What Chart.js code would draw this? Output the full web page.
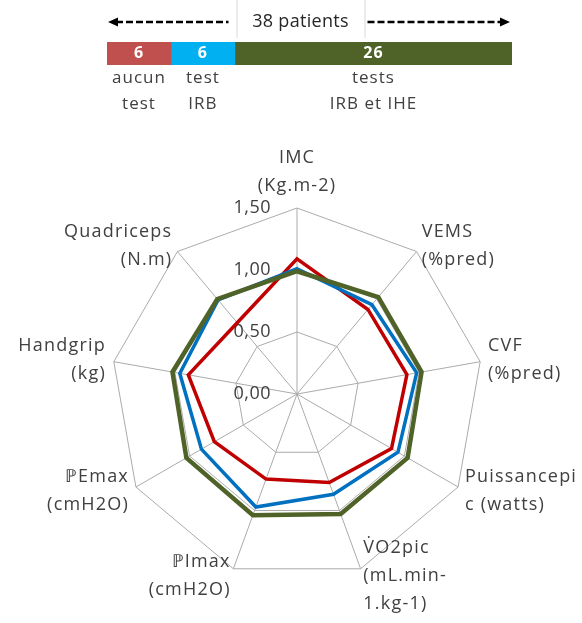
<!DOCTYPE html>
<html>
<head>
<meta charset="utf-8">
<script src="https://cdn.jsdelivr.net/npm/chart.js@4.4.0/dist/chart.umd.min.js"></script>
<style>
  body { margin: 0; background: #fff; }
  #wrap { position: relative; width: 582px; height: 623px; }
  canvas { position: absolute; left: 0; top: 0; }
</style>
</head>
<body>
<div id="wrap">
  <canvas id="radar" width="582" height="623"></canvas>
  <canvas id="bar" width="582" height="125"></canvas>
</div>
<script>
// top bar: patient groups
const groups = [['aucun', 'test'], ['test', 'IRB'], ['tests', 'IRB et IHE']];
const groupCounts = [6, 6, 26];
const totalLabel = '38 patients';

// radar axes (clockwise from top)
const axes = [
  ['IMC', '(Kg.m-2)'],
  ['VEMS', '(%pred)'],
  ['CVF', '(%pred)'],
  ['Puissancepi', 'c (watts)'],
  ['V\u0307O2pic', '(mL.min-', '1.kg-1)'],
  ['\u2119Imax', '(cmH2O)'],
  ['\u2119Emax', '(cmH2O)'],
  ['Handgrip', '(kg)'],
  ['Quadriceps', '(N.m)']
];
const aucunTest = [1.09, 0.89, 0.90, 0.88, 0.76, 0.73, 0.77, 0.89, 0.75];
const testIRB   = [1.01, 0.94, 0.98, 0.94, 0.86, 0.97, 0.89, 0.96, 0.99];
const testsIHE  = [0.99, 1.02, 1.02, 1.03, 1.03, 1.04, 1.03, 1.02, 1.00];
const scaleTicks = [0, 0.5, 1, 1.5];

const FONT = '"Open Sans", sans-serif';
const TEXT = '#404040';
const fmt = v => v.toFixed(2).replace('.', ',');

// ---------- bar ----------
const barText = {
  id: 'barText',
  afterDatasetsDraw(chart) {
    const ctx = chart.ctx;
    const x = chart.scales.x;
    ctx.save();
    ctx.letterSpacing = '1px';
    ctx.textAlign = 'center';
    ctx.textBaseline = 'middle';
    chart.data.datasets.forEach((ds, i) => {
      const el = chart.getDatasetMeta(i).data[0];
      const cx = (el.base + el.x) / 2;
      ctx.font = 'bold 16px ' + FONT;
      ctx.fillStyle = '#fff';
      ctx.fillText(ds.data[0], cx, el.y);
      ctx.font = '17px ' + FONT;
      ctx.fillStyle = TEXT;
      groups[i].forEach((ln, k) => ctx.fillText(ln, cx, 78 + k * 26));
    });

    // "38 patients" with dashed arrows
    const x0 = x.getPixelForValue(0), x1 = x.getPixelForValue(x.max);
    const mid = (x0 + x1) / 2 - 9, y = 22;
    ctx.strokeStyle = '#d9d9d9';
    ctx.lineWidth = 1;
    ctx.beginPath();
    ctx.moveTo(mid - 63.5, 0); ctx.lineTo(mid - 63.5, 38);
    ctx.moveTo(mid + 64.5, 0); ctx.lineTo(mid + 64.5, 38);
    ctx.stroke();
    ctx.font = '18px ' + FONT;
    ctx.fillStyle = '#262626';
    ctx.letterSpacing = '0.3px';
    ctx.fillText(totalLabel, mid, y);

    ctx.strokeStyle = '#000';
    ctx.fillStyle = '#000';
    ctx.lineWidth = 2.5;
    ctx.setLineDash([7, 3]);
    ctx.beginPath();
    ctx.moveTo(x0 + 9, y); ctx.lineTo(mid - 72, y);
    ctx.moveTo(mid + 67, y); ctx.lineTo(x1 - 10, y);
    ctx.stroke();
    ctx.setLineDash([]);
    ctx.beginPath();
    ctx.moveTo(x0 + 1, y); ctx.lineTo(x0 + 11, y - 4.5); ctx.lineTo(x0 + 11, y + 4.5); ctx.closePath();
    ctx.moveTo(x1 - 2, y); ctx.lineTo(x1 - 12, y - 4.5); ctx.lineTo(x1 - 12, y + 4.5); ctx.closePath();
    ctx.fill();
    ctx.restore();
  }
};

new Chart(document.getElementById('bar'), {
  type: 'bar',
  data: {
    labels: [''],
    datasets: [
      { data: [groupCounts[0]], backgroundColor: '#C0504D', borderWidth: 0 },
      { data: [groupCounts[1]], backgroundColor: '#00B0F0', borderWidth: 0 },
      { data: [groupCounts[2]], backgroundColor: '#4F6228', borderWidth: 0 }
    ]
  },
  options: {
    indexAxis: 'y',
    responsive: false,
    animation: false,
    events: [],
    layout: { padding: { left: 107, right: 70, top: 42, bottom: 60 } },
    datasets: { bar: { barPercentage: 1, categoryPercentage: 1 } },
    scales: {
      x: { stacked: true, min: 0, max: 38, display: false },
      y: { stacked: true, display: false }
    },
    plugins: { legend: { display: false }, tooltip: { enabled: false } }
  },
  plugins: [barText]
});

// ---------- radar ----------
const radarText = {
  id: 'radarText',
  beforeDatasetsDraw(chart) {
    const r = chart.scales.r, ctx = chart.ctx;
    ctx.save();
    ctx.font = '18px ' + FONT;
    ctx.letterSpacing = '0.5px';
    ctx.fillStyle = TEXT;
    ctx.textAlign = 'right';
    ctx.textBaseline = 'middle';
    r.ticks.forEach(t => {
      const y = r.yCenter - r.getDistanceFromCenterForValue(t.value);
      ctx.fillText(fmt(t.value), r.xCenter - 26, y);
    });
    ctx.restore();
  },
  afterDraw(chart) {
    const r = chart.scales.r, ctx = chart.ctx;
    const n = axes.length, lh = 28;
    ctx.save();
    ctx.font = '18px ' + FONT;
    ctx.letterSpacing = '1.2px';
    ctx.fillStyle = TEXT;
    ctx.textBaseline = 'middle';
    axes.forEach((lines, i) => {
      const p = r.getPointPosition(i, r.drawingArea + 8);
      const a = 360 / n * i;
      ctx.textAlign = a === 0 ? 'center' : a < 180 ? 'left' : 'right';
      const h = lines.length * lh;
      const top = a === 0 ? p.y - h : p.y - h / 2;
      lines.forEach((ln, k) => ctx.fillText(ln, p.x, top + lh * (k + 0.5)));
    });
    ctx.restore();
  }
};

new Chart(document.getElementById('radar'), {
  type: 'radar',
  data: {
    labels: axes.map(a => a.join(' ')),
    datasets: [
      { label: 'aucun test', data: aucunTest, borderColor: '#C00000', borderWidth: 3.5, order: 3 },
      { label: 'test IRB', data: testIRB, borderColor: '#0070C0', borderWidth: 3.5, order: 2 },
      { label: 'tests IRB et IHE', data: testsIHE, borderColor: '#4F6228', borderWidth: 4.5, order: 1 }
    ]
  },
  options: {
    responsive: false,
    animation: false,
    events: [],
    layout: { padding: { left: 111, right: 99, top: 208, bottom: 43 } },
    elements: {
      line: { fill: false, tension: 0, borderJoinStyle: 'miter' },
      point: { radius: 0 }
    },
    scales: {
      r: {
        min: scaleTicks[0],
        max: scaleTicks[scaleTicks.length - 1],
        ticks: { stepSize: scaleTicks[1] - scaleTicks[0], display: false },
        grid: { color: '#ABABAB', lineWidth: 1 },
        angleLines: { color: '#ABABAB', lineWidth: 1 },
        pointLabels: { display: false }
      }
    },
    plugins: { legend: { display: false }, tooltip: { enabled: false } }
  },
  plugins: [radarText]
});
</script>
</body>
</html>
